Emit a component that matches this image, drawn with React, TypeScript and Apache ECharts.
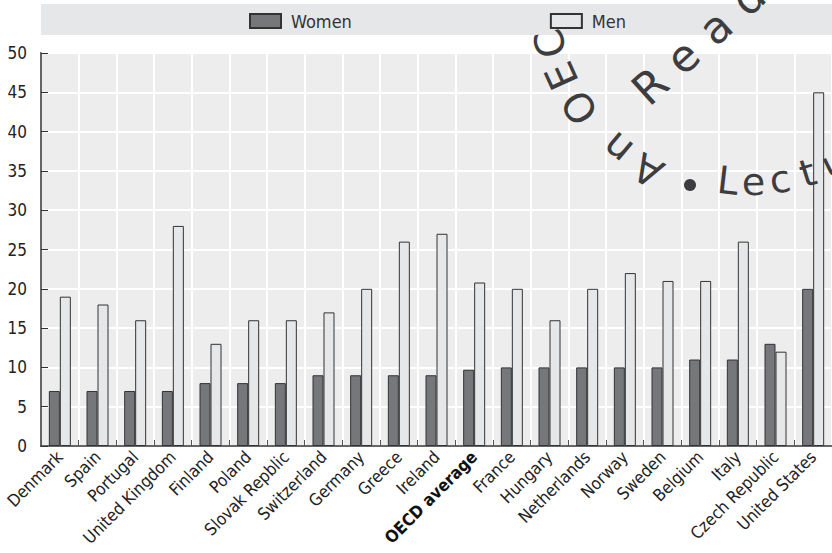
import React, { useEffect, useRef } from "react";
import * as echarts from "echarts";

const categories = [
  "Denmark", "Spain", "Portugal", "United Kingdom", "Finland", "Poland",
  "Slovak Repblic", "Switzerland", "Germany", "Greece", "Ireland",
  "OECD average", "France", "Hungary", "Netherlands", "Norway", "Sweden",
  "Belgium", "Italy", "Czech Republic", "United States",
];
const women = [7, 7, 7, 7, 8, 8, 8, 9, 9, 9, 9, 9.7, 10, 10, 10, 10, 10, 11, 11, 13, 20];
const men = [19, 18, 16, 28, 13, 16, 16, 17, 20, 26, 27, 20.8, 20, 16, 20, 22, 21, 21, 26, 12, 45];
const yTicks = { min: 0, max: 50, interval: 5 };
const seriesNames = ["Women", "Men"];
const highlighted = "OECD average";

// watermark (decorative stamp) text
const ringTop = [
  { ch: "A", a: 119.5 }, { ch: "n", a: 130 }, { ch: "O", a: 145.4 },
  { ch: "E", a: 155.5 }, { ch: "C", a: 165 }, { ch: "D", a: 182 },
];
const ringBottom = [
  { ch: "L", a: 96.6 }, { ch: "e", a: 89 }, { ch: "c", a: 81 },
  { ch: "t", a: 72.5 }, { ch: "u", a: 64 }, { ch: "r", a: 56 }, { ch: "e", a: 49 },
];
const readerWord = "Reader";

const FONT = '"DejaVu Sans Condensed", "Liberation Sans", Arial, sans-serif';
const WM_FONT = '"DejaVu Sans", Verdana, sans-serif';
const WM_COLOR = "#3d3d3f";

export default function App() {
  const ref = useRef<HTMLDivElement>(null);
  useEffect(() => {
    if (!ref.current) return;
    const chart = echarts.init(ref.current, undefined, { renderer: "svg" });
    const cx = 750, cy = -10;
    const rad = Math.PI / 180;
    const wm: any[] = [];
    ringTop.forEach((l) => {
      const r = 207;
      wm.push({
        type: "text",
        x: cx + r * Math.cos(l.a * rad),
        y: cy + r * Math.sin(l.a * rad),
        rotation: -(l.a + 90) * rad,
        z: 100,
        silent: true,
        style: { text: l.ch, x: 0, y: 0, align: "center", verticalAlign: "middle", fill: WM_COLOR, font: `40px ${WM_FONT}` },
      });
    });
    ringBottom.forEach((l) => {
      const r = 211;
      wm.push({
        type: "text",
        x: cx + r * Math.cos(l.a * rad),
        y: cy + r * Math.sin(l.a * rad),
        rotation: -(l.a - 90) * rad,
        z: 100,
        silent: true,
        style: { text: l.ch, x: 0, y: 0, align: "center", verticalAlign: "bottom", fill: WM_COLOR, font: `38px ${WM_FONT}` },
      });
    });
    {
      const a = 107.1, r = 204;
      wm.push({
        type: "circle", z: 100, silent: true,
        shape: { cx: cx + r * Math.cos(a * rad), cy: cy + r * Math.sin(a * rad), r: 6 },
        style: { fill: WM_COLOR },
      });
    }
    readerWord.split("").forEach((ch, i) => {
      const ang = 42 * rad;
      wm.push({
        type: "text",
        x: 650 + i * 44 * Math.cos(ang),
        y: 86 - i * 44 * Math.sin(ang),
        rotation: ang,
        z: 100,
        silent: true,
        style: { text: ch, x: 0, y: 0, align: "center", verticalAlign: "middle", fill: WM_COLOR, font: `44px ${WM_FONT}` },
      });
    });

    chart.setOption({
      animation: false,
      graphic: [
        { type: "rect", z: -1, shape: { x: 41, y: 4, width: 791, height: 31 }, style: { fill: "#e6e7e8" }, silent: true },
        ...wm,
      ],
      legend: {
        left: 244,
        top: 7,
        itemWidth: 31,
        itemHeight: 14,
        itemGap: 198,
        icon: "rect",
        data: seriesNames,
        textStyle: { fontFamily: FONT, fontSize: 18, color: "#333", padding: [0, 0, 0, 5] },
      },
      grid: {
        left: 41,
        top: 53,
        width: 793,
        bottom: 107,
        show: true,
        backgroundColor: "#ededed",
        borderColor: "#333",
        borderWidth: 1.5,
      },
      xAxis: {
        type: "category",
        data: categories.map((c) =>
          c === highlighted ? { value: c, textStyle: { fontWeight: "bold", color: "#111" } } : c
        ),
        axisLine: { show: true, lineStyle: { color: "#333", width: 1.5 } },
        axisTick: { show: true, inside: true, length: 6, lineStyle: { color: "#555" } },
        splitLine: { show: true, lineStyle: { color: "#ffffff", width: 2 } },
        axisLabel: { rotate: 45, margin: 8, interval: 0, fontFamily: FONT, fontSize: 17, color: "#222" },
      },
      yAxis: {
        type: "value",
        min: yTicks.min,
        max: yTicks.max,
        interval: yTicks.interval,
        axisLine: { show: true, lineStyle: { color: "#333", width: 1.5 } },
        axisTick: { show: true, inside: true, length: 7, lineStyle: { color: "#333" } },
        splitLine: { show: true, lineStyle: { color: "#ffffff", width: 2 } },
        axisLabel: { margin: 14, fontFamily: FONT, fontSize: 17, color: "#222" },
      },
      series: [
        {
          name: seriesNames[0],
          type: "bar",
          data: women,
          barWidth: 11,
          barGap: "0%",
          itemStyle: { color: "#76777b", borderColor: "#333", borderWidth: 1 },
        },
        {
          name: seriesNames[1],
          type: "bar",
          data: men,
          barWidth: 11,
          barGap: "0%",
          itemStyle: { color: "#e6e7e9", borderColor: "#333", borderWidth: 1 },
        },
      ],
    });
    return () => chart.dispose();
  }, []);
  return (
    <div
      ref={ref}
      style={{ position: "fixed", left: 0, top: 0, width: 832, height: 553, background: "#fff" }}
    />
  );
}
